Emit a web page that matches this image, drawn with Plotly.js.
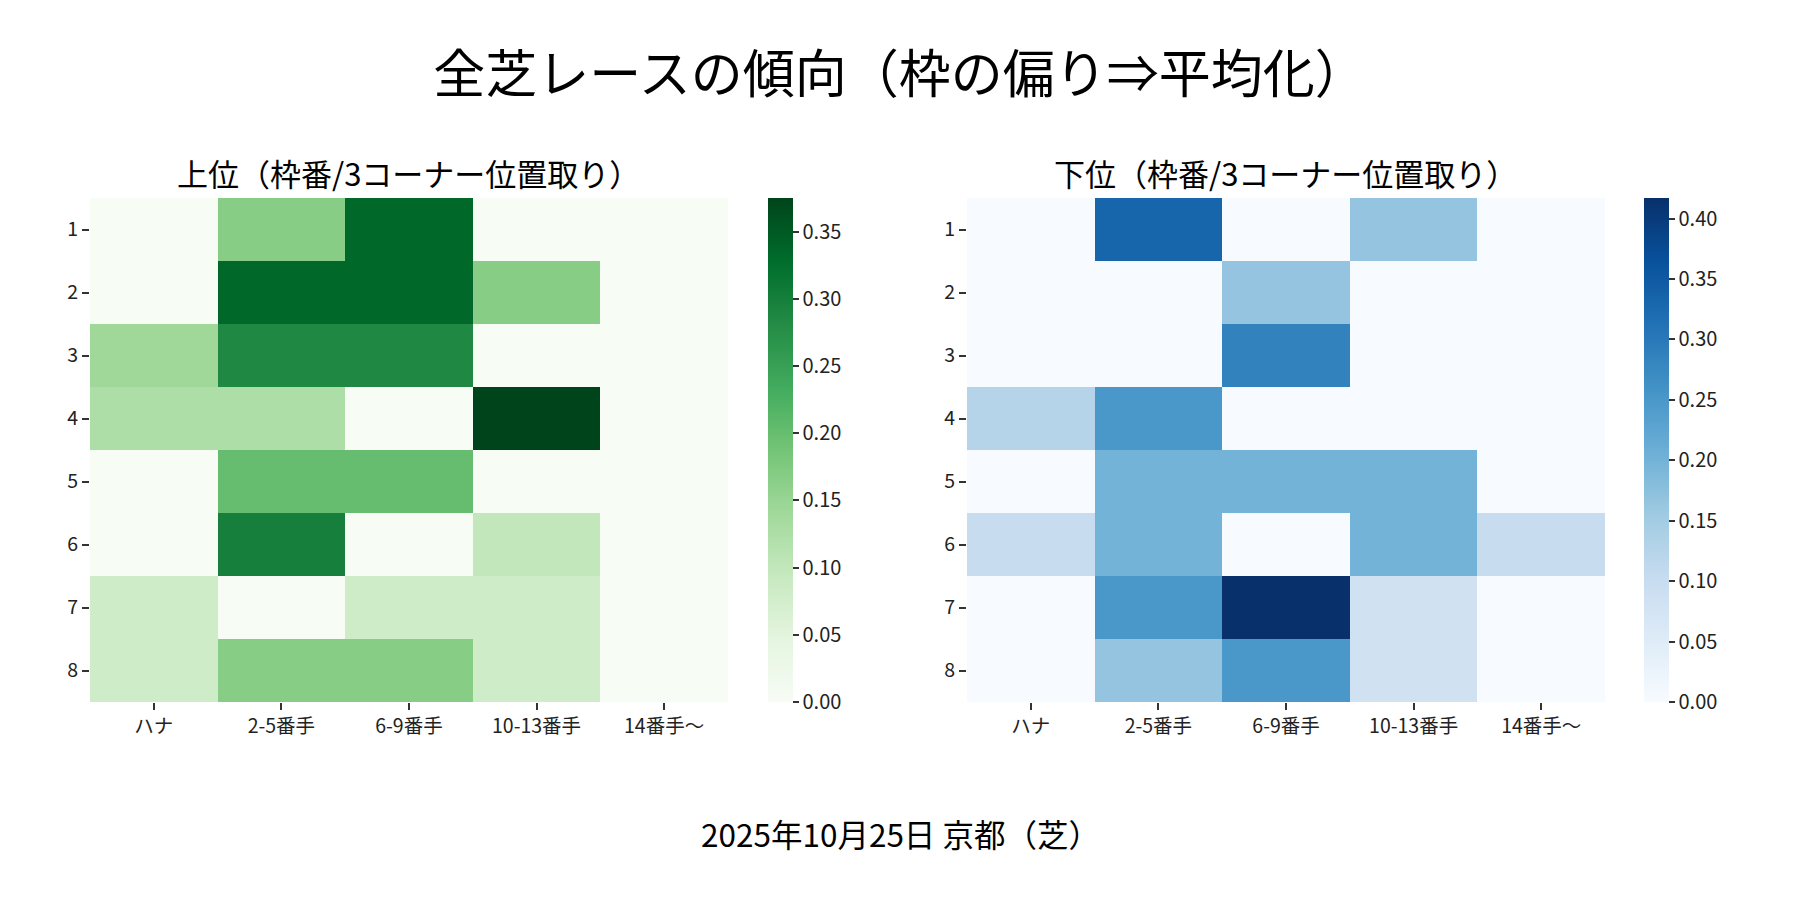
<!DOCTYPE html>
<html>
<head>
<meta charset="utf-8">
<script src="https://cdn.plot.ly/plotly-3.0.1.min.js"></script>
<style>
  html, body { margin: 0; padding: 0; background: #fff; }
  #chart { width: 1800px; height: 900px; }
</style>
</head>
<body>
<div id="chart"></div>
<script>
// columns = 3コーナー位置取り, rows = 枠番
var positions = ['ハナ', '2-5番手', '6-9番手', '10-13番手', '14番手〜'];
var gates = ['1', '2', '3', '4', '5', '6', '7', '8'];

// 上位
var topShares = [
    [0,     0.167, 0.333, 0,     0],
    [0,     0.333, 0.333, 0.167, 0],
    [0.143, 0.286, 0.286, 0,     0],
    [0.125, 0.125, 0,     0.375, 0],
    [0,     0.2,   0.2,   0,     0],
    [0,     0.3,   0,     0.1,   0],
    [0.083, 0,     0.083, 0.083, 0],
    [0.083, 0.167, 0.167, 0.083, 0]
];

// 下位
var bottomShares = [
    [0,     0.333, 0,     0.167, 0],
    [0,     0,     0.167, 0,     0],
    [0,     0,     0.286, 0,     0],
    [0.125, 0.25,  0,     0,     0],
    [0,     0.2,   0.2,   0.2,   0],
    [0.1,   0.2,   0,     0.2,   0.1],
    [0,     0.25,  0.417, 0.083, 0],
    [0,     0.167, 0.25,  0.083, 0]
];

var greens = [
    [0, '#f7fcf5'], [0.125, '#e5f5e0'], [0.25, '#c7e9c0'], [0.375, '#a1d99b'],
    [0.5, '#74c476'], [0.625, '#41ab5d'], [0.75, '#238b45'], [0.875, '#006d2c'], [1, '#00441b']
];
var blues = [
    [0, '#f7fbff'], [0.125, '#deebf7'], [0.25, '#c6dbef'], [0.375, '#9ecae1'],
    [0.5, '#6baed6'], [0.625, '#4292c6'], [0.75, '#2171b5'], [0.875, '#08519c'], [1, '#08306b']
];

function maxOf(m) {
    var mx = 0;
    for (var i = 0; i < m.length; i++) {
        for (var j = 0; j < m[i].length; j++) {
            if (m[i][j] > mx) mx = m[i][j];
        }
    }
    return mx;
}

function makeColorbar(xpos) {
    return {
        x: xpos, xanchor: 'left', xpad: 0,
        y: 0.22, yanchor: 'bottom', ypad: 0,
        len: 504, lenmode: 'pixels',
        thickness: 25,
        outlinewidth: 0,
        ticks: 'outside', ticklen: 6, tickcolor: '#333', tickwidth: 1.5,
        dtick: 0.05, tick0: 0, tickformat: '.2f',
        tickfont: {size: 20, color: '#222'}
    };
}

var data = [
    {
        type: 'heatmap', z: topShares, x: positions, y: gates,
        colorscale: greens, zmin: 0, zmax: maxOf(topShares),
        colorbar: makeColorbar(0.4267),
        xaxis: 'x', yaxis: 'y', hoverongaps: false
    },
    {
        type: 'heatmap', z: bottomShares, x: positions, y: gates,
        colorscale: blues, zmin: 0, zmax: maxOf(bottomShares),
        colorbar: makeColorbar(0.9133),
        xaxis: 'x2', yaxis: 'y2', hoverongaps: false
    }
];

var xax = {
    ticks: 'outside', ticklen: 7, tickcolor: '#333', tickwidth: 1.5,
    showgrid: false, zeroline: false, showline: false,
    tickfont: {size: 19.5, color: '#222'}
};
var yax = {
    ticks: 'outside', ticklen: 7, tickcolor: '#333', tickwidth: 1.5,
    showgrid: false, zeroline: false, showline: false,
    autorange: 'reversed',
    tickfont: {size: 19.5, color: '#222'}
};

var layout = {
    width: 1800,
    height: 900,
    margin: {l: 0, r: 0, t: 0, b: 0},
    paper_bgcolor: '#fff',
    plot_bgcolor: '#fff',
    font: {family: '"Noto Sans CJK JP", "Noto Sans", sans-serif', color: '#000'},
    title: {
        text: '全芝レースの傾向（枠の偏り⇒平均化）',
        x: 0.5, xanchor: 'center',
        y: 0.917, yanchor: 'middle',
        font: {size: 52, color: '#000'}
    },
    xaxis: Object.assign({domain: [0.05, 0.4044], anchor: 'y'}, xax),
    yaxis: Object.assign({domain: [0.22, 0.78], anchor: 'x'}, yax),
    xaxis2: Object.assign({domain: [0.5372, 0.8917], anchor: 'y2'}, xax),
    yaxis2: Object.assign({domain: [0.22, 0.78], anchor: 'x2'}, yax),
    annotations: [
        {
            text: '上位（枠番/3コーナー位置取り）',
            xref: 'paper', yref: 'paper', x: 0.2272, y: 0.808,
            xanchor: 'center', yanchor: 'middle', showarrow: false,
            font: {size: 31, color: '#000'}
        },
        {
            text: '下位（枠番/3コーナー位置取り）',
            xref: 'paper', yref: 'paper', x: 0.7144, y: 0.808,
            xanchor: 'center', yanchor: 'middle', showarrow: false,
            font: {size: 31, color: '#000'}
        },
        {
            text: '2025年10月25日 京都（芝）',
            xref: 'paper', yref: 'paper', x: 0.5, y: 0.0744,
            xanchor: 'center', yanchor: 'middle', showarrow: false,
            font: {size: 31.5, color: '#000'}
        }
    ]
};

Plotly.newPlot('chart', data, layout, {displayModeBar: false, responsive: false});
</script>
</body>
</html>
